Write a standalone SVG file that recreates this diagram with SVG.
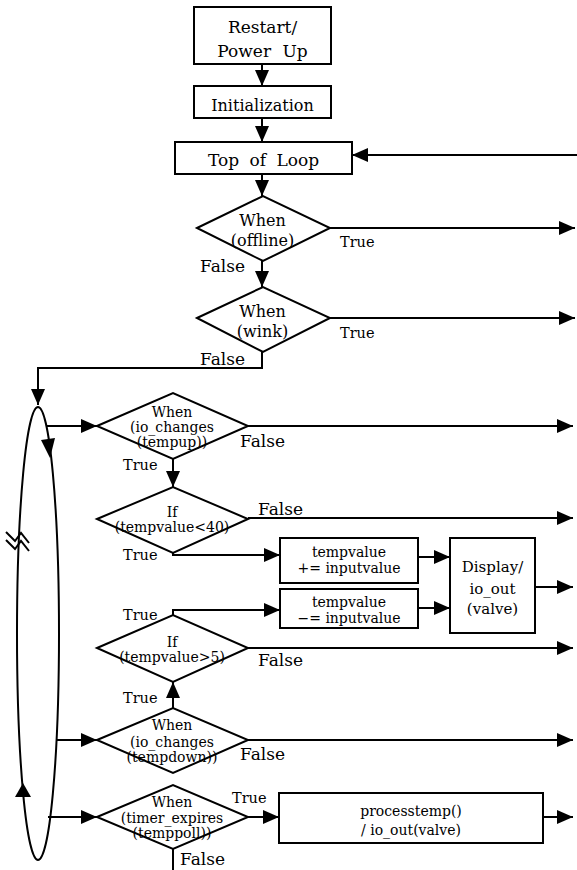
<svg xmlns="http://www.w3.org/2000/svg" width="577" height="870" viewBox="0 0 577 870">
<style>
  .box { fill: #fff; stroke: #000; stroke-width: 2; }
  .con { fill: none; stroke: #000; stroke-width: 2; }
  text { font-family: "DejaVu Serif", "Liberation Serif", serif; fill: #000; }
  .c { text-anchor: middle; }
  .big { font-size: 17px; }
  .mid { font-size: 16px; }
  .sm { font-size: 14px; }
  .t { font-size: 14.5px; }
  .f { font-size: 17px; }
</style>
<defs>
  <marker id="ah" markerWidth="16" markerHeight="14" refX="16" refY="7" orient="auto" markerUnits="userSpaceOnUse">
    <path d="M0,0 L16,7 L0,14 z" fill="#000"/>
  </marker>
</defs>
<rect width="577" height="870" fill="#fff"/>

<g id="connectors">
  <path class="con" d="M262,64 V86" marker-end="url(#ah)"/>
  <path class="con" d="M262,118 V142" marker-end="url(#ah)"/>
  <path class="con" d="M577,155 H352" marker-end="url(#ah)"/>
  <path class="con" d="M262,174 V196" marker-end="url(#ah)"/>
  <path class="con" d="M330,228 H575" marker-end="url(#ah)"/>
  <path class="con" d="M262,261 V287" marker-end="url(#ah)"/>
  <path class="con" d="M330,318 H575" marker-end="url(#ah)"/>
  <path class="con" d="M262,352 V368 H38 V405" marker-end="url(#ah)"/>
  <path class="con" d="M46,426 H97" marker-end="url(#ah)"/>
  <path class="con" d="M248,426 H573" marker-end="url(#ah)"/>
  <path class="con" d="M173,459 V487" marker-end="url(#ah)"/>
  <path class="con" d="M248,518 H573" marker-end="url(#ah)"/>
  <path class="con" d="M173,553 V555 H280" marker-end="url(#ah)"/>
  <path class="con" d="M418,557 H450" marker-end="url(#ah)"/>
  <path class="con" d="M173,615 V610 H280" marker-end="url(#ah)"/>
  <path class="con" d="M418,608 H450" marker-end="url(#ah)"/>
  <path class="con" d="M535,587 H573" marker-end="url(#ah)"/>
  <path class="con" d="M248,648 H573" marker-end="url(#ah)"/>
  <path class="con" d="M173,708 V682" marker-end="url(#ah)"/>
  <path class="con" d="M57,740 H97" marker-end="url(#ah)"/>
  <path class="con" d="M248,740 H573" marker-end="url(#ah)"/>
  <path class="con" d="M48,817 H97" marker-end="url(#ah)"/>
  <path class="con" d="M248,817 H279" marker-end="url(#ah)"/>
  <path class="con" d="M543,817 H573" marker-end="url(#ah)"/>
  <path class="con" d="M173,849 V870"/>
</g>

<g id="loop">
  <ellipse cx="38" cy="633.5" rx="21" ry="226.5" fill="none" stroke="#000" stroke-width="2"/>
  <polygon points="41,440 55,438 50,458" fill="#000"/>
  <polygon points="23,783 15,797 31,797" fill="#000"/>
  <polyline points="6,532 15,541 21,533 29,543" fill="none" stroke="#000" stroke-width="2"/>
  <polyline points="6,540 15,549 21,541 29,551" fill="none" stroke="#000" stroke-width="2"/>
</g>

<g id="restart">
  <rect class="box" x="194" y="7" width="137" height="57"/>
  <text class="c big" x="262.5" y="33">Restart/</text>
  <text class="c big" x="262.5" y="57" word-spacing="6">Power Up</text>
</g>
<g id="init">
  <rect class="box" x="194" y="86" width="137" height="32"/>
  <text class="c mid" x="262.5" y="111">Initialization</text>
</g>
<g id="toploop">
  <rect class="box" x="175" y="142" width="177" height="32"/>
  <text class="c big" x="263.5" y="166" word-spacing="5">Top of Loop</text>
</g>

<g id="d-offline">
  <polygon class="box" points="197,228 263,196 330,228 263,261"/>
  <text class="c mid" x="262.5" y="226">When</text>
  <text class="c mid" x="262.5" y="246">(offline)</text>
  <text class="t" x="340" y="247">True</text>
  <text class="f" x="200" y="272">False</text>
</g>
<g id="d-wink">
  <polygon class="box" points="197,318 263,287 330,318 263,352"/>
  <text class="c mid" x="262.5" y="317">When</text>
  <text class="c mid" x="262.5" y="337">(wink)</text>
  <text class="t" x="340" y="338">True</text>
  <text class="f" x="200" y="365">False</text>
</g>

<g id="d-tempup">
  <polygon class="box" points="97,426 173,393 248,426 173,459"/>
  <text class="c sm" x="172" y="417">When</text>
  <text class="c sm" x="172" y="432">(io_changes</text>
  <text class="c sm" x="172" y="447">(tempup))</text>
  <text class="f" x="240" y="447">False</text>
  <text class="t" x="123" y="470">True</text>
</g>
<g id="d-lt40">
  <polygon class="box" points="97,519 173,487 248,519 173,553"/>
  <text class="c sm" x="172" y="517">If</text>
  <text class="c sm" x="172" y="532">(tempvalue&lt;40)</text>
  <text class="f" x="258" y="515">False</text>
  <text class="t" x="123" y="560">True</text>
</g>
<g id="box-plus">
  <rect class="box" x="280" y="538" width="138" height="45"/>
  <text class="c sm" x="349" y="557">tempvalue</text>
  <text class="c sm" x="349" y="573">+= inputvalue</text>
</g>
<g id="box-minus">
  <rect class="box" x="280" y="589" width="138" height="39"/>
  <text class="c sm" x="349" y="607">tempvalue</text>
  <text class="c sm" x="349" y="623">−= inputvalue</text>
</g>
<g id="display">
  <rect class="box" x="450" y="538" width="85" height="95"/>
  <text class="c" font-size="15" x="492.5" y="572">Display/</text>
  <text class="c" font-size="15" x="492.5" y="594">io_out</text>
  <text class="c" font-size="15" x="492.5" y="614">(valve)</text>
</g>
<g id="d-gt5">
  <polygon class="box" points="97,648 173,615 248,648 173,682"/>
  <text class="c sm" x="172" y="647">If</text>
  <text class="c sm" x="172" y="662">(tempvalue&gt;5)</text>
  <text class="t" x="123" y="620">True</text>
  <text class="f" x="258" y="666">False</text>
</g>
<g id="d-tempdown">
  <polygon class="box" points="97,740 173,708 248,740 173,773"/>
  <text class="c sm" x="172" y="730">When</text>
  <text class="c sm" x="172" y="747">(io_changes</text>
  <text class="c sm" x="172" y="762">(tempdown))</text>
  <text class="t" x="123" y="703">True</text>
  <text class="f" x="240" y="760">False</text>
</g>
<g id="d-timer">
  <polygon class="box" points="97,817 173,785 248,817 173,849"/>
  <text class="c sm" x="172" y="807">When</text>
  <text class="c sm" x="172" y="823">(timer_expires</text>
  <text class="c sm" x="172" y="838">(temppoll))</text>
  <text class="t" x="232" y="803">True</text>
  <text class="f" x="180" y="865">False</text>
</g>
<g id="processtemp">
  <rect class="box" x="279" y="793" width="264" height="50"/>
  <text class="c sm" x="411" y="816">processtemp()</text>
  <text class="c sm" x="411" y="835">/ io_out(valve)</text>
</g>
</svg>
